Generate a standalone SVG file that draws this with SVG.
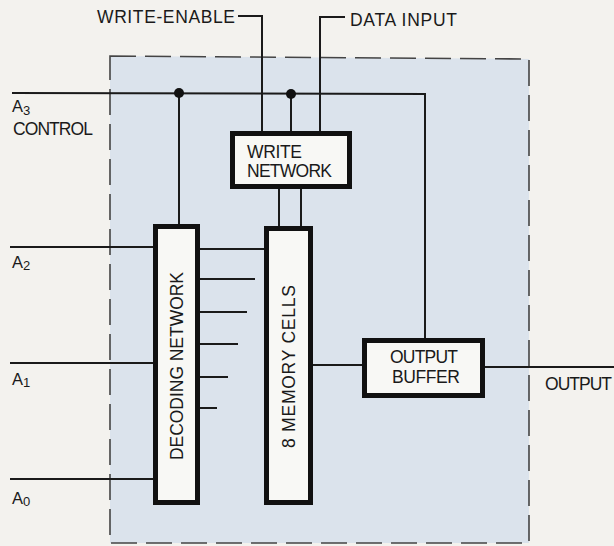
<svg xmlns="http://www.w3.org/2000/svg" width="614" height="546" viewBox="0 0 614 546">
<style>
.lbl{font-family:"Liberation Sans","DejaVu Sans",sans-serif;font-size:17.5px;fill:#1a1a1a;}
.lbl.a{font-size:16.5px;}
.sub{font-size:13px;}
.box{fill:#f8f8f5;stroke:#111;stroke-width:5;}
.wire{fill:none;stroke:#1a1a1a;stroke-width:2;}
.dash{fill:#dbe3ec;stroke:#444;stroke-width:1.6;stroke-dasharray:26 9;}
</style>
<rect x="0" y="0" width="614" height="546" fill="#f3f2ee"/>
<path class="dash" d="M110,56 L529,59 L529,543 L110,543 Z"/>
<g id="connectors">
<polyline class="wire" points="12,93 425,94 425,340"/>
<line class="wire" x1="179" y1="93" x2="179" y2="226"/>
<line class="wire" x1="291" y1="94" x2="291" y2="133"/>
<polyline class="wire" points="238,16 262,16 262,133"/>
<polyline class="wire" points="345,17 320,17 320,133"/>
<line class="wire" x1="279" y1="187" x2="279" y2="228"/>
<line class="wire" x1="301" y1="187" x2="301" y2="228"/>
<line class="wire" x1="10" y1="247" x2="155" y2="247"/>
<line class="wire" x1="10" y1="363" x2="155" y2="363"/>
<line class="wire" x1="10" y1="479" x2="155" y2="479"/>
<line class="wire" x1="198" y1="249" x2="266" y2="249"/>
<line class="wire" x1="198" y1="279" x2="255" y2="279"/>
<line class="wire" x1="198" y1="312" x2="247" y2="312"/>
<line class="wire" x1="198" y1="344" x2="238" y2="344"/>
<line class="wire" x1="198" y1="377" x2="228" y2="377"/>
<line class="wire" x1="198" y1="408" x2="217" y2="408"/>
<line class="wire" x1="311" y1="365" x2="364" y2="365"/>
<line class="wire" x1="483" y1="367" x2="614" y2="367"/>
<circle cx="179" cy="93" r="5" fill="#111"/>
<circle cx="291" cy="94" r="5" fill="#111"/>
</g>
<g id="write-network">
<rect class="box" x="232.5" y="133.5" width="117" height="53"/>
<text class="lbl" x="247" y="158" textLength="55" lengthAdjust="spacing">WRITE</text>
<text class="lbl" x="247" y="177" textLength="85" lengthAdjust="spacing">NETWORK</text>
</g>
<g id="decoding-network">
<rect class="box" x="155.5" y="226.5" width="42" height="276"/>
<text class="lbl" transform="translate(183,460) rotate(-90)" textLength="188" lengthAdjust="spacing">DECODING NETWORK</text>
</g>
<g id="memory-cells">
<rect class="box" x="266.5" y="228.5" width="44" height="274"/>
<text class="lbl" transform="translate(295,448) rotate(-90)" textLength="163" lengthAdjust="spacing">8 MEMORY CELLS</text>
</g>
<g id="output-buffer">
<rect class="box" x="364.5" y="340.5" width="118" height="55"/>
<text class="lbl" x="390" y="363" textLength="68" lengthAdjust="spacing">OUTPUT</text>
<text class="lbl" x="392" y="383" textLength="68" lengthAdjust="spacing">BUFFER</text>
</g>
<g id="labels">
<text class="lbl" x="97" y="23" textLength="138" lengthAdjust="spacing">WRITE-ENABLE</text>
<text class="lbl" x="350" y="26" textLength="107" lengthAdjust="spacing">DATA INPUT</text>
<text class="lbl a" x="12" y="112">A<tspan class="sub" dy="3">3</tspan></text>
<text class="lbl" x="13" y="135" textLength="80" lengthAdjust="spacing">CONTROL</text>
<text class="lbl a" x="12" y="268">A<tspan class="sub" dy="2">2</tspan></text>
<text class="lbl a" x="12" y="385">A<tspan class="sub" dy="2">1</tspan></text>
<text class="lbl a" x="12" y="504">A<tspan class="sub" dy="2">0</tspan></text>
<text class="lbl" x="545" y="390" textLength="67" lengthAdjust="spacing">OUTPUT</text>
</g>
</svg>
